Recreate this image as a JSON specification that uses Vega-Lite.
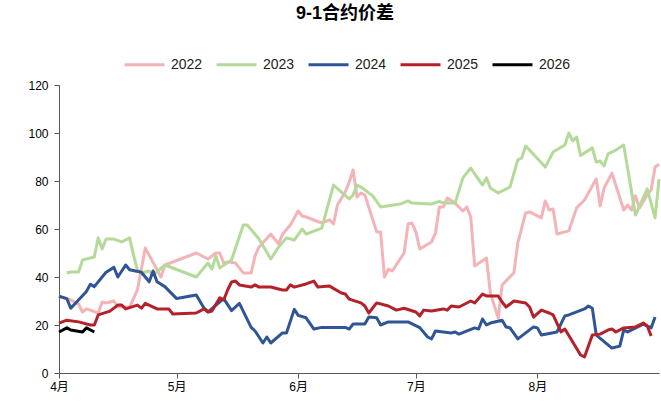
{
"$schema":"https://vega.github.io/schema/vega-lite/v6.json",
"autosize":{"type":"none"},
"width":600,"height":288,
"padding":{"left":59,"top":85,"right":2,"bottom":30},
"background":"white",
"title":{"text":"9-1合约价差","fontSize":18,"fontWeight":"bold","font":"Liberation Sans, Noto Sans CJK SC","color":"#000000","anchor":"middle","dx":-14,"offset":20},
"config":{"view":{"stroke":null},"font":"Liberation Sans, Noto Sans CJK SC"},
"data":{"values":[
{"s":"2022","d":"2000-04-01","v":32},{"s":"2022","d":"2000-04-04","v":30.4},{"s":"2022","d":"2000-04-06","v":28.7},{"s":"2022","d":"2000-04-07","v":25.4},{"s":"2022","d":"2000-04-08","v":26.7},{"s":"2022","d":"2000-04-11","v":25},{"s":"2022","d":"2000-04-12","v":29.6},{"s":"2022","d":"2000-04-13","v":29.2},{"s":"2022","d":"2000-04-15","v":30},{"s":"2022","d":"2000-04-16","v":27.5},{"s":"2022","d":"2000-04-19","v":27.5},{"s":"2022","d":"2000-04-21","v":34.6},{"s":"2022","d":"2000-04-23","v":52.1},{"s":"2022","d":"2000-04-27","v":40},{"s":"2022","d":"2000-04-28","v":45},{"s":"2022","d":"2000-05-06","v":50},{"s":"2022","d":"2000-05-09","v":47.5},{"s":"2022","d":"2000-05-11","v":50},{"s":"2022","d":"2000-05-12","v":50},{"s":"2022","d":"2000-05-13","v":45.8},{"s":"2022","d":"2000-05-14","v":46.3},{"s":"2022","d":"2000-05-16","v":45.8},{"s":"2022","d":"2000-05-18","v":41.7},{"s":"2022","d":"2000-05-20","v":41.7},{"s":"2022","d":"2000-05-21","v":48.8},{"s":"2022","d":"2000-05-22","v":52.5},{"s":"2022","d":"2000-05-25","v":57.9},{"s":"2022","d":"2000-05-27","v":53.8},{"s":"2022","d":"2000-05-28","v":57.9},{"s":"2022","d":"2000-05-30","v":61.7},{"s":"2022","d":"2000-06-01","v":67.5},{"s":"2022","d":"2000-06-02","v":65.4},{"s":"2022","d":"2000-06-03","v":65},{"s":"2022","d":"2000-06-07","v":62.5},{"s":"2022","d":"2000-06-09","v":63.8},{"s":"2022","d":"2000-06-10","v":62.1},{"s":"2022","d":"2000-06-11","v":70},{"s":"2022","d":"2000-06-13","v":75.4},{"s":"2022","d":"2000-06-14","v":79.6},{"s":"2022","d":"2000-06-15","v":84.6},{"s":"2022","d":"2000-06-16","v":73.3},{"s":"2022","d":"2000-06-17","v":75},{"s":"2022","d":"2000-06-18","v":74.2},{"s":"2022","d":"2000-06-21","v":58.8},{"s":"2022","d":"2000-06-22","v":58.8},{"s":"2022","d":"2000-06-23","v":40},{"s":"2022","d":"2000-06-24","v":43.3},{"s":"2022","d":"2000-06-25","v":42.5},{"s":"2022","d":"2000-06-28","v":50},{"s":"2022","d":"2000-06-29","v":62.1},{"s":"2022","d":"2000-06-30","v":62.5},{"s":"2022","d":"2000-07-01","v":58.8},{"s":"2022","d":"2000-07-02","v":51.7},{"s":"2022","d":"2000-07-05","v":54.6},{"s":"2022","d":"2000-07-06","v":58.3},{"s":"2022","d":"2000-07-07","v":69.2},{"s":"2022","d":"2000-07-08","v":69.2},{"s":"2022","d":"2000-07-09","v":72.9},{"s":"2022","d":"2000-07-11","v":70.8},{"s":"2022","d":"2000-07-13","v":67.5},{"s":"2022","d":"2000-07-14","v":69.2},{"s":"2022","d":"2000-07-15","v":65},{"s":"2022","d":"2000-07-16","v":44.6},{"s":"2022","d":"2000-07-19","v":47.9},{"s":"2022","d":"2000-07-20","v":33.3},{"s":"2022","d":"2000-07-22","v":22.9},{"s":"2022","d":"2000-07-23","v":36.7},{"s":"2022","d":"2000-07-26","v":41.7},{"s":"2022","d":"2000-07-27","v":54.2},{"s":"2022","d":"2000-07-29","v":66.7},{"s":"2022","d":"2000-07-30","v":67.1},{"s":"2022","d":"2000-08-02","v":64.6},{"s":"2022","d":"2000-08-03","v":71.7},{"s":"2022","d":"2000-08-04","v":67.9},{"s":"2022","d":"2000-08-05","v":68.3},{"s":"2022","d":"2000-08-06","v":57.9},{"s":"2022","d":"2000-08-09","v":59.2},{"s":"2022","d":"2000-08-11","v":68.8},{"s":"2022","d":"2000-08-13","v":72.1},{"s":"2022","d":"2000-08-16","v":80.8},{"s":"2022","d":"2000-08-17","v":69.6},{"s":"2022","d":"2000-08-18","v":77.1},{"s":"2022","d":"2000-08-20","v":83.3},{"s":"2022","d":"2000-08-23","v":67.9},{"s":"2022","d":"2000-08-24","v":70},{"s":"2022","d":"2000-08-25","v":67.9},{"s":"2022","d":"2000-08-26","v":73.8},{"s":"2022","d":"2000-08-27","v":68.8},{"s":"2022","d":"2000-08-29","v":74.2},{"s":"2022","d":"2000-08-30","v":76.3},{"s":"2022","d":"2000-08-31","v":85.8},{"s":"2022","d":"2000-09-01","v":87},
{"s":"2023","d":"2000-04-03","v":41.7},{"s":"2023","d":"2000-04-04","v":42.1},{"s":"2023","d":"2000-04-06","v":42.1},{"s":"2023","d":"2000-04-07","v":47.1},{"s":"2023","d":"2000-04-10","v":48.3},{"s":"2023","d":"2000-04-11","v":56.3},{"s":"2023","d":"2000-04-12","v":51.7},{"s":"2023","d":"2000-04-13","v":55.8},{"s":"2023","d":"2000-04-15","v":55.8},{"s":"2023","d":"2000-04-17","v":54.6},{"s":"2023","d":"2000-04-19","v":56.3},{"s":"2023","d":"2000-04-20","v":49.2},{"s":"2023","d":"2000-04-21","v":42.9},{"s":"2023","d":"2000-04-22","v":41.7},{"s":"2023","d":"2000-04-24","v":42.5},{"s":"2023","d":"2000-04-25","v":40.8},{"s":"2023","d":"2000-04-28","v":45},{"s":"2023","d":"2000-05-06","v":40},{"s":"2023","d":"2000-05-09","v":45.8},{"s":"2023","d":"2000-05-10","v":43.3},{"s":"2023","d":"2000-05-11","v":48.8},{"s":"2023","d":"2000-05-12","v":43.8},{"s":"2023","d":"2000-05-15","v":47.1},{"s":"2023","d":"2000-05-18","v":61.7},{"s":"2023","d":"2000-05-19","v":61.7},{"s":"2023","d":"2000-05-22","v":55.8},{"s":"2023","d":"2000-05-25","v":47.5},{"s":"2023","d":"2000-05-27","v":52.5},{"s":"2023","d":"2000-05-29","v":56.3},{"s":"2023","d":"2000-05-31","v":55.4},{"s":"2023","d":"2000-06-02","v":60},{"s":"2023","d":"2000-06-03","v":57.9},{"s":"2023","d":"2000-06-07","v":60.4},{"s":"2023","d":"2000-06-10","v":78.3},{"s":"2023","d":"2000-06-14","v":72.5},{"s":"2023","d":"2000-06-15","v":74.2},{"s":"2023","d":"2000-06-16","v":78.3},{"s":"2023","d":"2000-06-17","v":77.5},{"s":"2023","d":"2000-06-20","v":73.8},{"s":"2023","d":"2000-06-22","v":69.2},{"s":"2023","d":"2000-06-27","v":70.4},{"s":"2023","d":"2000-06-29","v":71.7},{"s":"2023","d":"2000-06-30","v":70.8},{"s":"2023","d":"2000-07-05","v":70.4},{"s":"2023","d":"2000-07-07","v":71.5},{"s":"2023","d":"2000-07-08","v":70.8},{"s":"2023","d":"2000-07-11","v":70.8},{"s":"2023","d":"2000-07-13","v":81.3},{"s":"2023","d":"2000-07-15","v":85.4},{"s":"2023","d":"2000-07-18","v":78.3},{"s":"2023","d":"2000-07-19","v":81.3},{"s":"2023","d":"2000-07-20","v":77.1},{"s":"2023","d":"2000-07-22","v":75},{"s":"2023","d":"2000-07-25","v":77.5},{"s":"2023","d":"2000-07-27","v":88.8},{"s":"2023","d":"2000-07-28","v":89.6},{"s":"2023","d":"2000-07-29","v":94.6},{"s":"2023","d":"2000-08-01","v":89.4},{"s":"2023","d":"2000-08-03","v":85.8},{"s":"2023","d":"2000-08-05","v":92.1},{"s":"2023","d":"2000-08-08","v":95},{"s":"2023","d":"2000-08-09","v":100},{"s":"2023","d":"2000-08-10","v":96.7},{"s":"2023","d":"2000-08-11","v":98.3},{"s":"2023","d":"2000-08-12","v":90.6},{"s":"2023","d":"2000-08-15","v":93.8},{"s":"2023","d":"2000-08-16","v":87.9},{"s":"2023","d":"2000-08-17","v":88.3},{"s":"2023","d":"2000-08-18","v":86.3},{"s":"2023","d":"2000-08-19","v":91.3},{"s":"2023","d":"2000-08-21","v":92.9},{"s":"2023","d":"2000-08-23","v":95},{"s":"2023","d":"2000-08-26","v":65.8},{"s":"2023","d":"2000-08-29","v":76.7},{"s":"2023","d":"2000-08-31","v":64.6},{"s":"2023","d":"2000-09-01","v":80.8},
{"s":"2024","d":"2000-04-01","v":32},{"s":"2024","d":"2000-04-03","v":31},{"s":"2024","d":"2000-04-04","v":27},{"s":"2024","d":"2000-04-08","v":34},{"s":"2024","d":"2000-04-09","v":37},{"s":"2024","d":"2000-04-10","v":36},{"s":"2024","d":"2000-04-13","v":42},{"s":"2024","d":"2000-04-15","v":44},{"s":"2024","d":"2000-04-16","v":40},{"s":"2024","d":"2000-04-18","v":45},{"s":"2024","d":"2000-04-19","v":43},{"s":"2024","d":"2000-04-22","v":42},{"s":"2024","d":"2000-04-24","v":38},{"s":"2024","d":"2000-04-25","v":42.5},{"s":"2024","d":"2000-04-26","v":38},{"s":"2024","d":"2000-04-28","v":36},{"s":"2024","d":"2000-05-01","v":31},{"s":"2024","d":"2000-05-06","v":32.5},{"s":"2024","d":"2000-05-08","v":27},{"s":"2024","d":"2000-05-09","v":25.5},{"s":"2024","d":"2000-05-13","v":31},{"s":"2024","d":"2000-05-15","v":26},{"s":"2024","d":"2000-05-17","v":29},{"s":"2024","d":"2000-05-20","v":19},{"s":"2024","d":"2000-05-21","v":17.5},{"s":"2024","d":"2000-05-23","v":12.5},{"s":"2024","d":"2000-05-24","v":15},{"s":"2024","d":"2000-05-25","v":12.5},{"s":"2024","d":"2000-05-28","v":16.7},{"s":"2024","d":"2000-05-29","v":16.7},{"s":"2024","d":"2000-05-31","v":26.5},{"s":"2024","d":"2000-06-01","v":24},{"s":"2024","d":"2000-06-03","v":23},{"s":"2024","d":"2000-06-05","v":18.3},{"s":"2024","d":"2000-06-07","v":19},{"s":"2024","d":"2000-06-12","v":19},{"s":"2024","d":"2000-06-13","v":19},{"s":"2024","d":"2000-06-14","v":18.3},{"s":"2024","d":"2000-06-15","v":20.4},{"s":"2024","d":"2000-06-18","v":20.4},{"s":"2024","d":"2000-06-19","v":23.3},{"s":"2024","d":"2000-06-21","v":23},{"s":"2024","d":"2000-06-22","v":20},{"s":"2024","d":"2000-06-24","v":21.3},{"s":"2024","d":"2000-06-29","v":21.3},{"s":"2024","d":"2000-07-02","v":18.9},{"s":"2024","d":"2000-07-04","v":15},{"s":"2024","d":"2000-07-05","v":14.2},{"s":"2024","d":"2000-07-06","v":17.5},{"s":"2024","d":"2000-07-10","v":16.7},{"s":"2024","d":"2000-07-11","v":17.1},{"s":"2024","d":"2000-07-12","v":16.2},{"s":"2024","d":"2000-07-16","v":18.8},{"s":"2024","d":"2000-07-17","v":18.3},{"s":"2024","d":"2000-07-18","v":22.5},{"s":"2024","d":"2000-07-19","v":20},{"s":"2024","d":"2000-07-20","v":20.8},{"s":"2024","d":"2000-07-23","v":22},{"s":"2024","d":"2000-07-24","v":19.2},{"s":"2024","d":"2000-07-25","v":18.8},{"s":"2024","d":"2000-07-27","v":14.2},{"s":"2024","d":"2000-07-31","v":19.2},{"s":"2024","d":"2000-08-01","v":18.8},{"s":"2024","d":"2000-08-02","v":15.8},{"s":"2024","d":"2000-08-06","v":17.1},{"s":"2024","d":"2000-08-08","v":23.8},{"s":"2024","d":"2000-08-09","v":24.2},{"s":"2024","d":"2000-08-13","v":26.7},{"s":"2024","d":"2000-08-14","v":27.9},{"s":"2024","d":"2000-08-15","v":27},{"s":"2024","d":"2000-08-16","v":15.8},{"s":"2024","d":"2000-08-20","v":10.4},{"s":"2024","d":"2000-08-22","v":11.2},{"s":"2024","d":"2000-08-23","v":17.9},{"s":"2024","d":"2000-08-24","v":17.1},{"s":"2024","d":"2000-08-28","v":20.4},{"s":"2024","d":"2000-08-30","v":18.8},{"s":"2024","d":"2000-08-31","v":23.3},
{"s":"2025","d":"2000-04-01","v":20.8},{"s":"2025","d":"2000-04-03","v":22},{"s":"2025","d":"2000-04-06","v":21.3},{"s":"2025","d":"2000-04-09","v":20},{"s":"2025","d":"2000-04-10","v":20},{"s":"2025","d":"2000-04-11","v":24.2},{"s":"2025","d":"2000-04-14","v":25.8},{"s":"2025","d":"2000-04-16","v":28.3},{"s":"2025","d":"2000-04-17","v":28.3},{"s":"2025","d":"2000-04-18","v":26.7},{"s":"2025","d":"2000-04-21","v":28.3},{"s":"2025","d":"2000-04-22","v":27},{"s":"2025","d":"2000-04-23","v":29},{"s":"2025","d":"2000-04-26","v":26.7},{"s":"2025","d":"2000-04-29","v":26.7},{"s":"2025","d":"2000-04-30","v":24.6},{"s":"2025","d":"2000-05-06","v":25},{"s":"2025","d":"2000-05-08","v":26.7},{"s":"2025","d":"2000-05-09","v":25.4},{"s":"2025","d":"2000-05-10","v":25.8},{"s":"2025","d":"2000-05-12","v":31.3},{"s":"2025","d":"2000-05-13","v":30.4},{"s":"2025","d":"2000-05-14","v":34.6},{"s":"2025","d":"2000-05-15","v":37.9},{"s":"2025","d":"2000-05-16","v":38.3},{"s":"2025","d":"2000-05-17","v":36.7},{"s":"2025","d":"2000-05-20","v":35.8},{"s":"2025","d":"2000-05-21","v":36.7},{"s":"2025","d":"2000-05-22","v":35.8},{"s":"2025","d":"2000-05-25","v":35.8},{"s":"2025","d":"2000-05-28","v":34.6},{"s":"2025","d":"2000-05-29","v":34.6},{"s":"2025","d":"2000-05-30","v":36.7},{"s":"2025","d":"2000-05-31","v":35.8},{"s":"2025","d":"2000-06-03","v":37.1},{"s":"2025","d":"2000-06-05","v":38.3},{"s":"2025","d":"2000-06-06","v":35.8},{"s":"2025","d":"2000-06-09","v":36.2},{"s":"2025","d":"2000-06-12","v":33.3},{"s":"2025","d":"2000-06-13","v":32.9},{"s":"2025","d":"2000-06-14","v":30.8},{"s":"2025","d":"2000-06-17","v":29.2},{"s":"2025","d":"2000-06-18","v":27.9},{"s":"2025","d":"2000-06-19","v":25},{"s":"2025","d":"2000-06-21","v":29.2},{"s":"2025","d":"2000-06-24","v":27.9},{"s":"2025","d":"2000-06-26","v":26.2},{"s":"2025","d":"2000-06-28","v":27},{"s":"2025","d":"2000-07-01","v":25.4},{"s":"2025","d":"2000-07-02","v":23.8},{"s":"2025","d":"2000-07-03","v":26.2},{"s":"2025","d":"2000-07-05","v":25.8},{"s":"2025","d":"2000-07-08","v":26.7},{"s":"2025","d":"2000-07-09","v":26.2},{"s":"2025","d":"2000-07-10","v":27.9},{"s":"2025","d":"2000-07-12","v":27.5},{"s":"2025","d":"2000-07-15","v":30},{"s":"2025","d":"2000-07-16","v":29.2},{"s":"2025","d":"2000-07-18","v":32.9},{"s":"2025","d":"2000-07-19","v":32.1},{"s":"2025","d":"2000-07-22","v":32.1},{"s":"2025","d":"2000-07-23","v":29.6},{"s":"2025","d":"2000-07-24","v":27.5},{"s":"2025","d":"2000-07-26","v":30},{"s":"2025","d":"2000-07-29","v":29.2},{"s":"2025","d":"2000-07-30","v":27.5},{"s":"2025","d":"2000-07-31","v":23.3},{"s":"2025","d":"2000-08-02","v":26.2},{"s":"2025","d":"2000-08-04","v":25},{"s":"2025","d":"2000-08-05","v":24.2},{"s":"2025","d":"2000-08-07","v":17.1},{"s":"2025","d":"2000-08-08","v":18.3},{"s":"2025","d":"2000-08-12","v":7.5},{"s":"2025","d":"2000-08-13","v":6.7},{"s":"2025","d":"2000-08-15","v":15.8},{"s":"2025","d":"2000-08-17","v":16.2},{"s":"2025","d":"2000-08-19","v":17.9},{"s":"2025","d":"2000-08-20","v":18.3},{"s":"2025","d":"2000-08-21","v":17.1},{"s":"2025","d":"2000-08-23","v":18.8},{"s":"2025","d":"2000-08-26","v":19.2},{"s":"2025","d":"2000-08-28","v":20.8},{"s":"2025","d":"2000-08-29","v":19.6},{"s":"2025","d":"2000-08-30","v":15.4},
{"s":"2026","d":"2000-04-01","v":17.1},{"s":"2026","d":"2000-04-03","v":18.8},{"s":"2026","d":"2000-04-04","v":17.9},{"s":"2026","d":"2000-04-07","v":17.1},{"s":"2026","d":"2000-04-08","v":18.8},{"s":"2026","d":"2000-04-10","v":17.1}
]},
"mark":{"type":"line","strokeWidth":3,"strokeJoin":"round","strokeCap":"butt"},
"encoding":{
"x":{"field":"d","type":"temporal","title":null,
"scale":{"type":"utc","domain":[{"year":2000,"month":4,"date":1,"utc":true},{"year":2000,"month":9,"date":1,"utc":true}]},
"axis":{"values":[{"year":2000,"month":4,"date":1,"utc":true},{"year":2000,"month":5,"date":1,"utc":true},{"year":2000,"month":6,"date":1,"utc":true},{"year":2000,"month":7,"date":1,"utc":true},{"year":2000,"month":8,"date":1,"utc":true}],
"labelExpr":"utcFormat(datum.value, '%-m') + '月'","grid":false,"domainColor":"#595959","tickColor":"#595959","tickSize":5,"labelFontSize":12,"labelColor":"#000000","labelPadding":3,"labelFlush":false}},
"y":{"field":"v","type":"quantitative","title":null,"scale":{"domain":[0,120],"nice":false},
"axis":{"values":[0,20,40,60,80,100,120],"grid":false,"domainColor":"#595959","tickColor":"#595959","tickSize":5,"labelFontSize":12,"labelColor":"#000000","labelPadding":6}},
"color":{"field":"s","type":"nominal","title":null,
"scale":{"domain":["2022","2023","2024","2025","2026"],"range":["#F4B3B7","#B4DA99","#2F5597","#B52129","#000000"]},
"legend":{"orient":"none","legendX":64,"legendY":-42,"direction":"horizontal","symbolType":"stroke","symbolSize":1600,"symbolStrokeWidth":3,"labelFontSize":14,"labelColor":"#222222","columnPadding":7,"labelOffset":5}}
}
}
